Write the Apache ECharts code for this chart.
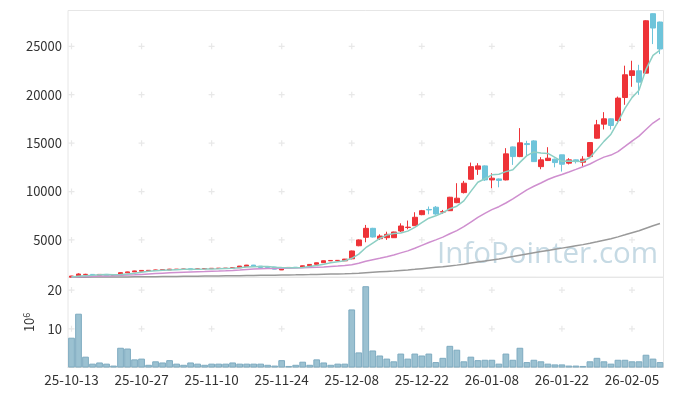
<!DOCTYPE html>
<html>
<head>
<meta charset="utf-8">
<script src="https://cdn.jsdelivr.net/npm/echarts@6/dist/echarts.min.js"></script>
<style>html,body{margin:0;padding:0;background:#fff;}#c{width:673px;height:396px;}</style>
</head>
<body>
<div id="c"></div>
<script>
const dates = [
'25-10-13','25-10-14','25-10-15','25-10-16','25-10-17','25-10-20','25-10-21','25-10-22','25-10-23','25-10-24',
'25-10-27','25-10-28','25-10-29','25-10-30','25-10-31','25-11-03','25-11-04','25-11-05','25-11-06','25-11-07',
'25-11-10','25-11-11','25-11-12','25-11-13','25-11-14','25-11-17','25-11-18','25-11-19','25-11-20','25-11-21',
'25-11-24','25-11-25','25-11-26','25-11-27','25-11-28','25-12-01','25-12-02','25-12-03','25-12-04','25-12-05',
'25-12-08','25-12-09','25-12-10','25-12-11','25-12-12','25-12-15','25-12-16','25-12-17','25-12-18','25-12-19',
'25-12-22','25-12-23','25-12-24','25-12-26','25-12-29','25-12-30','26-01-02','26-01-05','26-01-06','26-01-07',
'26-01-08','26-01-09','26-01-12','26-01-13','26-01-14','26-01-15','26-01-16','26-01-19','26-01-20','26-01-21',
'26-01-22','26-01-23','26-01-26','26-01-27','26-01-28','26-01-29','26-01-30','26-02-02','26-02-03','26-02-04',
'26-02-05','26-02-06','26-02-09','26-02-10','26-02-11'
];
const openP = [
1150,1300,1420,1440,1340,1440,1320,1360,1600,1700,
1770,1830,1850,1880,1900,1950,1960,2030,1990,2010,
2040,2060,2065,2080,2130,2250,2400,2290,2160,2200,
1900,2150,2180,2200,2340,2480,2650,2840,2870,2840,
3050,4400,5270,6200,5130,5230,5230,5920,6280,6470,
7610,8150,8380,7880,8020,8850,9890,11270,12300,12650,
11200,11300,11200,14610,13610,14950,15230,12570,13200,13340,
13790,12930,13270,13030,13610,15510,16960,17510,17330,19710,
21990,22470,22230,28370,27510
];
const closeP = [
1270,1480,1450,1400,1440,1320,1380,1620,1700,1800,
1850,1860,1900,1930,1980,1980,2000,1920,2010,2040,
2070,2075,2080,2130,2300,2400,2280,2150,2130,1980,
2150,2160,2150,2330,2470,2640,2850,2880,2890,3020,
3860,5000,6200,5300,5400,5580,5820,6440,6320,7340,
8020,8100,7680,7920,9410,9310,10860,12570,12650,11200,
11380,11150,13890,13610,15030,14850,13090,13270,13440,12990,
12820,13270,13090,13340,15060,16890,17510,16820,19650,22060,
22470,21300,27640,26890,24720
];
const lowP = [
1140,1290,1380,1390,1330,1310,1300,1350,1590,1690,
1760,1800,1840,1870,1890,1940,1950,1900,1960,2000,
2020,2040,2050,2060,2120,2240,2260,2130,2110,1970,
1890,2100,2130,2190,2330,2470,2640,2820,2850,2820,
3000,4350,4760,5250,5000,5000,5200,5820,6100,6450,
7550,7650,7600,7700,8000,8800,9800,11200,11720,11100,
10340,10440,11150,12750,13550,13710,13050,12300,13150,12500,
12060,12800,12900,12580,13580,15450,16410,16410,16990,18960,
20820,19990,22200,25230,24200
];
const highP = [
1290,1550,1500,1460,1450,1450,1390,1640,1720,1820,
1890,1880,1920,1960,2010,2000,2020,2040,2040,2060,
2090,2090,2100,2150,2310,2420,2420,2300,2180,2210,
2200,2200,2200,2350,2490,2660,2870,2920,2920,3040,
3900,5050,6550,6250,5580,5850,5850,6720,7000,7860,
8100,8450,8500,8100,9450,10860,11100,12990,12930,12700,
11890,11350,14480,14650,16550,15240,15300,13550,14580,13400,
13800,13450,13300,13650,15100,17400,18200,17550,19810,23000,
23510,23090,27700,28400,27550
];
const volumeM = [
7.7,13.9,2.8,1.0,1.3,1.0,0.5,5.1,4.9,2.1,
2.3,0.7,1.6,1.3,1.9,1.0,0.7,1.3,1.0,0.7,
1.0,1.0,1.0,1.3,1.0,1.0,1.0,1.0,0.7,0.5,
1.9,0.4,0.7,1.5,0.7,2.1,1.3,0.7,1.0,1.0,
15.0,3.9,21.0,4.4,3.1,2.3,1.6,3.6,2.3,3.6,
3.1,3.6,1.4,2.5,5.6,4.6,1.6,2.8,1.9,2.0,
2.0,1.0,3.6,2.0,5.1,1.4,2.0,1.6,1.0,0.8,
0.8,0.5,0.5,0.4,1.6,2.5,1.6,1.0,2.0,2.0,
1.6,1.6,3.3,2.3,1.4
];
const ma5 = [
1180,1240,1300,1350,1410,1420,1400,1430,1490,1560,
1670,1770,1820,1870,1900,1930,1960,1960,1980,1990,
2010,2020,2055,2080,2130,2200,2240,2250,2250,2190,
2140,2115,2115,2155,2250,2350,2490,2635,2745,2855,
3100,3530,4195,4675,5150,5495,5660,5710,5910,6300,
6790,7245,7490,7810,8225,8485,9035,10015,10960,11320,
11730,11790,12055,12245,13010,13705,14095,13970,13935,13530,
13120,13160,13120,13100,13515,14330,15180,15925,17185,18585,
19700,20460,22620,24070,24600
];
const ma20 = [
1180,1200,1220,1240,1265,1285,1310,1340,1370,1400,
1440,1480,1520,1560,1600,1630,1660,1690,1710,1730,
1757,1786,1818,1854,1897,1951,1996,2023,2044,2053,
2068,2083,2096,2116,2140,2173,2216,2264,2308,2357,
2446,2593,2799,2957,3112,3271,3448,3663,3872,4140,
4434,4731,5007,5287,5634,5967,6368,6852,7340,7749,
8125,8433,8817,9233,9714,10178,10541,10883,11239,11521,
11761,12020,12290,12561,12844,13223,13555,13768,14118,14661,
15215,15723,16410,17074,17559
];
const ma100 = [
1151,1155,1158,1160,1163,1165,1167,1172,1177,1184,
1191,1198,1205,1213,1221,1230,1238,1246,1254,1263,
1273,1282,1291,1301,1312,1325,1336,1346,1356,1364,
1374,1384,1394,1406,1419,1434,1451,1469,1486,1505,
1532,1570,1621,1662,1705,1749,1796,1849,1900,1962,
2031,2100,2166,2233,2316,2398,2495,2609,2724,2824,
2927,3027,3154,3279,3418,3555,3674,3795,3918,4036,
4153,4274,4394,4516,4655,4812,4976,5132,5317,5527,
5740,5941,6206,6464,6699
];
const priceTicks = [5000,10000,15000,20000,25000];
const volumeTicks = [10,20];
const dateTickStep = 10;

const candles = dates.map((d,i)=>[openP[i], closeP[i], lowP[i], highP[i]]);
const tickIdx = dates.map((d,i)=>i).filter(i=>i%dateTickStep===0);
const plusPrice = [];
tickIdx.forEach(i=>priceTicks.forEach(v=>plusPrice.push([i,v])));
const plusVol = [];
tickIdx.forEach(i=>volumeTicks.forEach(v=>plusVol.push([i,v])));
const plusPath = 'path://M4,0h2v4h4v2h-4v4h-2v-4h-4v-2h4z';
const FONT = 'Noto Sans CJK KR';

const chart = echarts.init(document.getElementById('c'), null, {renderer:'canvas'});
chart.setOption({
  animation:false,
  backgroundColor:'#fff',
  textStyle:{fontFamily:FONT},
  graphic:[{
    type:'text', left:437, top:240, z:0,
    style:{text:'InfoPointer.com', fontSize:29.5, fontFamily:'Open Sans', fill:'#c6dae4'}
  }],
  grid:[
    {left:68, right:9.5, top:10.5, height:266.8, show:true, borderColor:'#e6e6e6', borderWidth:1},
    {left:68, right:9.5, top:277.3, height:90.2, show:true, borderColor:'#e6e6e6', borderWidth:1}
  ],
  xAxis:[
    {type:'category', gridIndex:0, data:dates, boundaryGap:true,
     axisLine:{show:false}, axisTick:{show:false}, axisLabel:{show:false}, splitLine:{show:false}},
    {type:'category', gridIndex:1, data:dates, boundaryGap:true,
     axisLine:{show:true, lineStyle:{color:'#dddddd'}}, axisTick:{show:false},
     axisLabel:{interval:dateTickStep-1, color:'#333', fontSize:13.5, fontFamily:FONT, margin:6},
     splitLine:{show:false}}
  ],
  yAxis:[
    {type:'value', gridIndex:0, min:1140, max:28700, splitNumber:5, scale:true,
     axisLine:{show:false}, axisTick:{show:false}, splitLine:{show:false},
     axisLabel:{color:'#333', fontSize:13, fontFamily:FONT, margin:6, showMinLabel:false, showMaxLabel:false,
       formatter:function(v){return priceTicks.indexOf(v)>=0 ? String(v) : '';}}},
    {type:'value', gridIndex:1, min:0, max:23.3, interval:10,
     axisLine:{show:false}, axisTick:{show:false}, splitLine:{show:false},
     axisLabel:{color:'#333', fontSize:13, fontFamily:FONT, margin:6, showMinLabel:false, showMaxLabel:false,
       formatter:function(v){return volumeTicks.indexOf(v)>=0 ? String(v) : '';}},
     name:'10{s|6}', nameLocation:'middle', nameGap:31, nameRotate:90,
     nameTextStyle:{color:'#333', fontSize:13, fontFamily:FONT, rich:{s:{fontSize:9, verticalAlign:'top', padding:[0,0,6,0], color:'#333', fontFamily:FONT}}}}
  ],
  series:[
    {type:'scatter', xAxisIndex:0, yAxisIndex:0, data:plusPrice, symbol:plusPath, symbolSize:6,
     itemStyle:{color:'#e2e2e2'}, silent:true, z:1},
    {type:'scatter', xAxisIndex:1, yAxisIndex:1, data:plusVol, symbol:plusPath, symbolSize:6,
     itemStyle:{color:'#e2e2e2'}, silent:true, z:1},
    {type:'candlestick', xAxisIndex:0, yAxisIndex:0, data:candles, barWidth:'72%',
     itemStyle:{color:'#ee3338', color0:'#6ec4da', borderColor:'#ee3338', borderColor0:'#6ec4da', borderWidth:1}, z:3},
    {type:'line', xAxisIndex:0, yAxisIndex:0, data:ma100, showSymbol:false, lineStyle:{color:'#999999', width:1.5}, z:4},
    {type:'line', xAxisIndex:0, yAxisIndex:0, data:ma20, showSymbol:false, lineStyle:{color:'#cf8fcf', width:1.5}, z:4},
    {type:'line', xAxisIndex:0, yAxisIndex:0, data:ma5, showSymbol:false, lineStyle:{color:'#8dcfc4', width:1.5}, z:4},
    {type:'bar', xAxisIndex:1, yAxisIndex:1, data:volumeM, barCategoryGap:'4%',
     itemStyle:{color:'#9bc1d1', borderColor:'#7eabc0', borderWidth:1}, z:3}
  ]
});
</script>
</body>
</html>
